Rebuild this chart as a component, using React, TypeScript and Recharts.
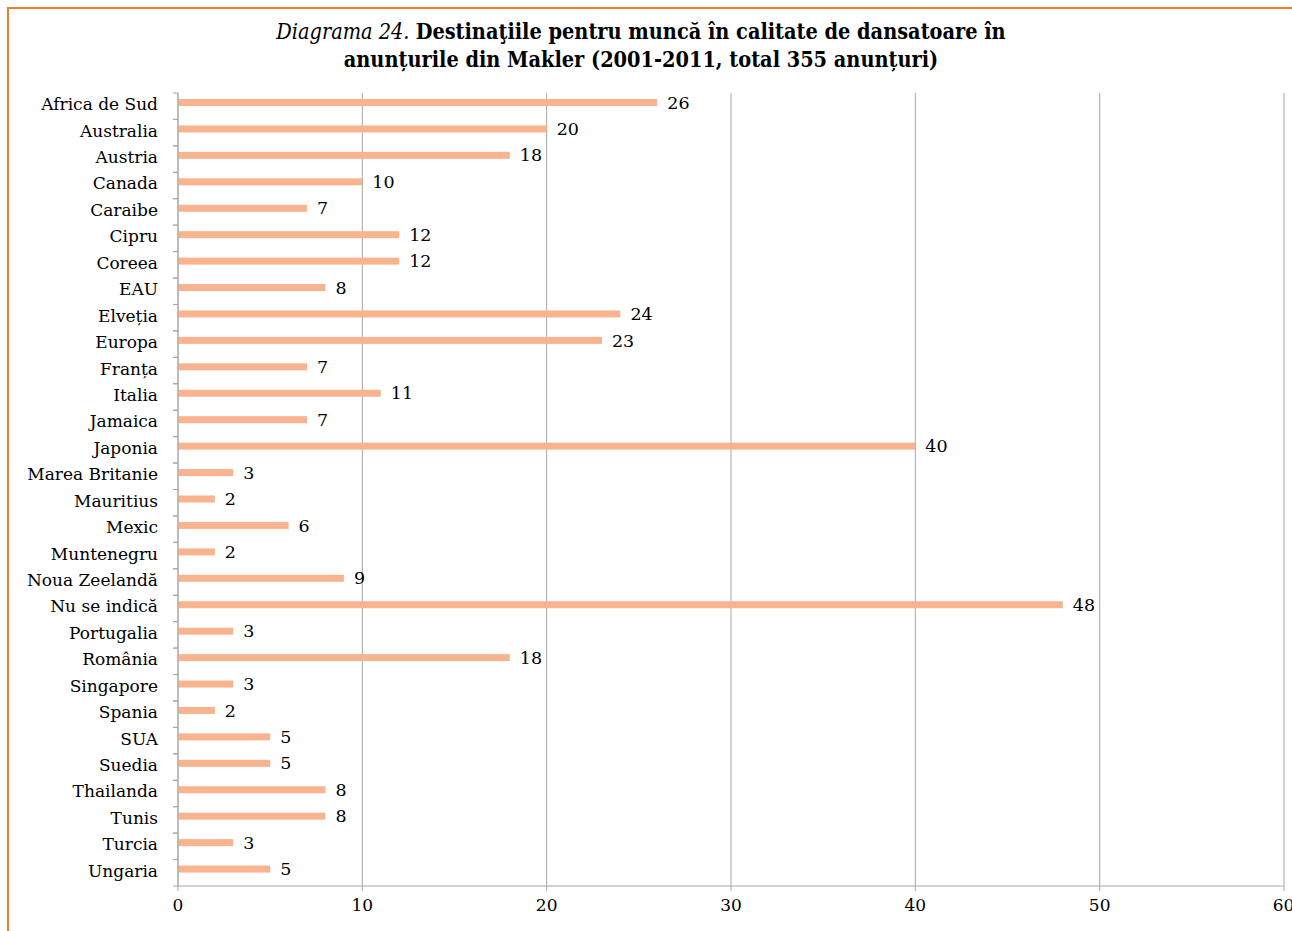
import React from 'react';
import { BarChart, Bar, XAxis, YAxis, CartesianGrid, LabelList } from 'recharts';

const countries = [
  'Africa de Sud', 'Australia', 'Austria', 'Canada', 'Caraibe', 'Cipru', 'Coreea', 'EAU',
  'Elveția', 'Europa', 'Franța', 'Italia', 'Jamaica', 'Japonia', 'Marea Britanie', 'Mauritius',
  'Mexic', 'Muntenegru', 'Noua Zeelandă', 'Nu se indică', 'Portugalia', 'România', 'Singapore',
  'Spania', 'SUA', 'Suedia', 'Thailanda', 'Tunis', 'Turcia', 'Ungaria',
];
const adCounts = [
  26, 20, 18, 10, 7, 12, 12, 8, 24, 23, 7, 11, 7, 40, 3, 2, 6, 2, 9, 48, 3, 18, 3, 2, 5, 5, 8, 8, 3, 5,
];
const xTicks = [0, 10, 20, 30, 40, 50, 60];

const data = countries.map((name, i) => ({ name, value: adCounts[i] }));

const FONT = '"DejaVu Serif", serif';
const TITLE_FONT = '"DejaVu Serif Condensed", "DejaVu Serif", serif';
const GRAY = '#A6A6A6';
const BAR = '#F9B48F';

// category labels + excel style tick marks between categories
const CountryTick = (props: any) => {
  const { x, y, payload } = props;
  const half = payload && payload.offset ? payload.offset : 13.2;
  return (
    <g>
      <line x1={x + 15} x2={x + 20} y1={y - half} y2={y - half} stroke={GRAY} />
      <line x1={x + 15} x2={x + 20} y1={y + half} y2={y + half} stroke={GRAY} />
      <text x={x} y={y - 2} dy="0.35em" textAnchor="end" fontFamily={FONT} fontSize={17} fill="#000">
        {payload.value}
      </text>
    </g>
  );
};

// excel draws the single bar a bit above the middle of its slot
const ShiftedBar = (props: any) => {
  const { x, y, width, height } = props;
  return <rect x={x} y={y - 4} width={width} height={height} fill={BAR} />;
};

const ValueLabel = (props: any) => {
  const { x, y, width, height, value } = props;
  return (
    <text x={x + width + 10} y={y + height / 2 - 4} dy="0.35em" fontFamily={FONT} fontSize={17.5} fill="#000">
      {value}
    </text>
  );
};

export default function App() {
  return (
    <div style={{ position: 'absolute', left: 0, top: 0, width: 1292, height: 931, background: '#fff', overflow: 'hidden' }}>
      <div style={{ position: 'absolute', left: 7, top: 7, right: 0, bottom: 0, borderTop: '2px solid #ED7D31', borderLeft: '2px solid #ED7D31' }} />
      <div style={{ position: 'absolute', left: 0, top: 18, width: 1282, textAlign: 'center', fontFamily: TITLE_FONT, fontSize: 21.5, lineHeight: '28px', color: '#000' }}>
        <div>
          <i>Diagrama 24.</i> <b>Destinaţiile pentru muncă în calitate de dansatoare în</b>
        </div>
        <div>
          <b>anunțurile din Makler (2001-2011, total 355 anunțuri)</b>
        </div>
      </div>
      <div style={{ position: 'absolute', left: 0, top: 0 }}>
        <BarChart
          width={1292}
          height={931}
          data={data}
          layout="vertical"
          margin={{ top: 93, right: 8, bottom: 15, left: 0 }}
          barSize={7}
        >
          <CartesianGrid horizontal={false} stroke={GRAY} />
          <XAxis
            type="number"
            domain={[0, 60]}
            ticks={xTicks}
            height={30}
            stroke={GRAY}
            tickSize={5}
            tickMargin={8}
            tick={{ fill: '#000', fontFamily: FONT, fontSize: 17 }}
          />
          <YAxis
            type="category"
            dataKey="name"
            width={178}
            stroke={GRAY}
            tickLine={false}
            tickSize={5}
            tickMargin={15}
            interval={0}
            tick={<CountryTick />}
          />
          <Bar dataKey="value" fill={BAR} shape={<ShiftedBar />} isAnimationActive={false}>
            <LabelList dataKey="value" content={<ValueLabel />} />
          </Bar>
        </BarChart>
      </div>
    </div>
  );
}
